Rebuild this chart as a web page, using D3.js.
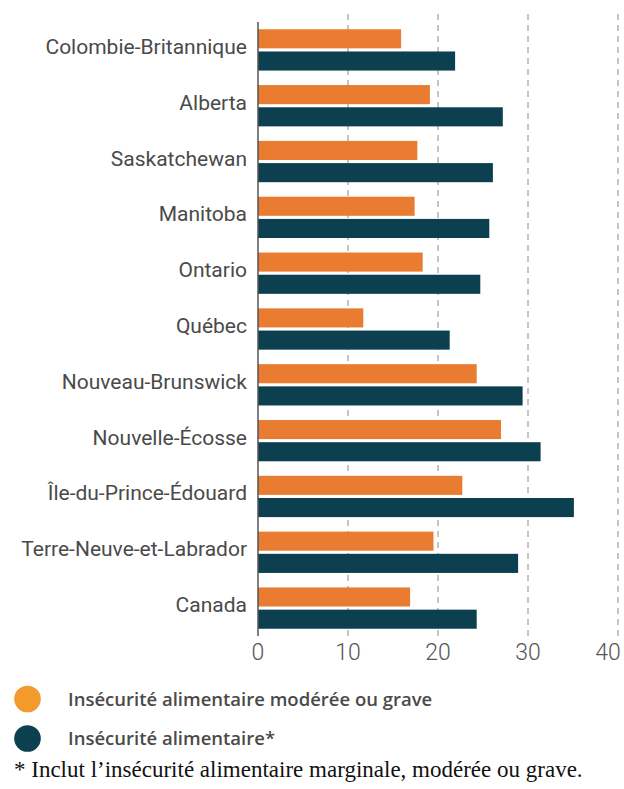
<!DOCTYPE html>
<html>
<head>
<meta charset="utf-8">
<script src="https://cdn.jsdelivr.net/npm/d3@7"></script>
<style>
  html, body { margin: 0; padding: 0; background: #fff; }
  svg { display: block; }
</style>
</head>
<body>
<svg id="chart" width="624" height="789"></svg>
<script>
const categories = [
  "Colombie-Britannique", "Alberta", "Saskatchewan", "Manitoba", "Ontario",
  "Québec", "Nouveau-Brunswick", "Nouvelle-Écosse", "Île-du-Prince-Édouard",
  "Terre-Neuve-et-Labrador", "Canada"
];
const moderateSevere = [15.9, 19.1, 17.7, 17.4, 18.3, 11.7, 24.3, 27.0, 22.7, 19.5, 16.9];
const foodInsecurity = [21.9, 27.2, 26.1, 25.7, 24.7, 21.3, 29.4, 31.4, 35.1, 28.9, 24.3];
const seriesNames = ["Insécurité alimentaire modérée ou grave", "Insécurité alimentaire*"];
const xTicks = [0, 10, 20, 30, 40];
const footnote = "* Inclut l’insécurité alimentaire marginale, modérée ou grave.";

const barColors = ["#E97C30", "#0C4050"];
const legendColors = ["#F39A2C", "#0C4050"];

const svg = d3.select("#chart");
const mLeft = 258, mRight = 618, mTop = 22, mBottom = 636;

const x = d3.scaleLinear().domain([0, 40]).range([mLeft, mRight]);
const y = d3.scaleBand().domain(categories).range([mTop, mBottom]).paddingInner(0.26).paddingOuter(0.13);
const y1 = d3.scaleBand().domain([0, 1]).range([0, y.bandwidth()]).paddingInner(0.14);

// gridlines
svg.append("g").selectAll("line").data(xTicks.filter(d => d > 0)).join("line")
  .attr("x1", d => x(d)).attr("x2", d => x(d))
  .attr("y1", 14).attr("y2", mBottom)
  .attr("stroke", "#8a8a8a").attr("stroke-width", 1)
  .attr("stroke-dasharray", "6,5");

// bars
const rows = categories.map((c, i) => ({ c, v: [moderateSevere[i], foodInsecurity[i]] }));
const g = svg.append("g").selectAll("g").data(rows).join("g")
  .attr("transform", d => `translate(0,${y(d.c)})`);
g.selectAll("rect").data(d => d.v.map((v, k) => ({ v, k }))).join("rect")
  .attr("x", x(0))
  .attr("y", d => y1(d.k))
  .attr("width", d => x(d.v) - x(0))
  .attr("height", y1.bandwidth())
  .attr("fill", d => barColors[d.k]);

// y axis line
svg.append("line").attr("x1", x(0)).attr("x2", x(0)).attr("y1", mTop).attr("y2", mBottom)
  .attr("stroke", "#555").attr("stroke-width", 1.5);

// category labels
svg.append("g").selectAll("text").data(categories).join("text")
  .attr("x", 247)
  .attr("y", d => y(d) + y.bandwidth() / 2 + 4)
  .attr("text-anchor", "end")
  .attr("font-family", "Roboto, sans-serif")
  .attr("font-size", 21)
  .attr("fill", "#4a4a4a")
  .text(d => d);

// x tick labels
svg.append("g").selectAll("text").data(xTicks).join("text")
  .attr("x", d => x(d) + (d === 40 ? -10 : 0))
  .attr("y", 660)
  .attr("text-anchor", "middle")
  .attr("font-family", "Roboto, sans-serif")
  .attr("font-weight", 300)
  .attr("font-size", 23)
  .attr("fill", "#555")
  .text(d => d);

// legend
const leg = svg.append("g").selectAll("g").data(seriesNames).join("g")
  .attr("transform", (d, i) => `translate(0,${i === 0 ? 699 : 738.5})`);
leg.append("circle").attr("cx", 27.5).attr("cy", 0).attr("r", 13.3)
  .attr("fill", (d, i) => legendColors[i]);
leg.append("text").attr("x", 68).attr("y", 6.5)
  .attr("font-family", "'Open Sans', sans-serif")
  .attr("font-weight", 600)
  .attr("font-size", 18.5)
  .attr("fill", "#4a4a4a")
  .text(d => d);

// footnote
svg.append("text").attr("x", 14).attr("y", 777)
  .attr("font-family", "'Liberation Serif', serif")
  .attr("font-size", 23)
  .attr("fill", "#111")
  .text(footnote);
</script>
</body>
</html>
